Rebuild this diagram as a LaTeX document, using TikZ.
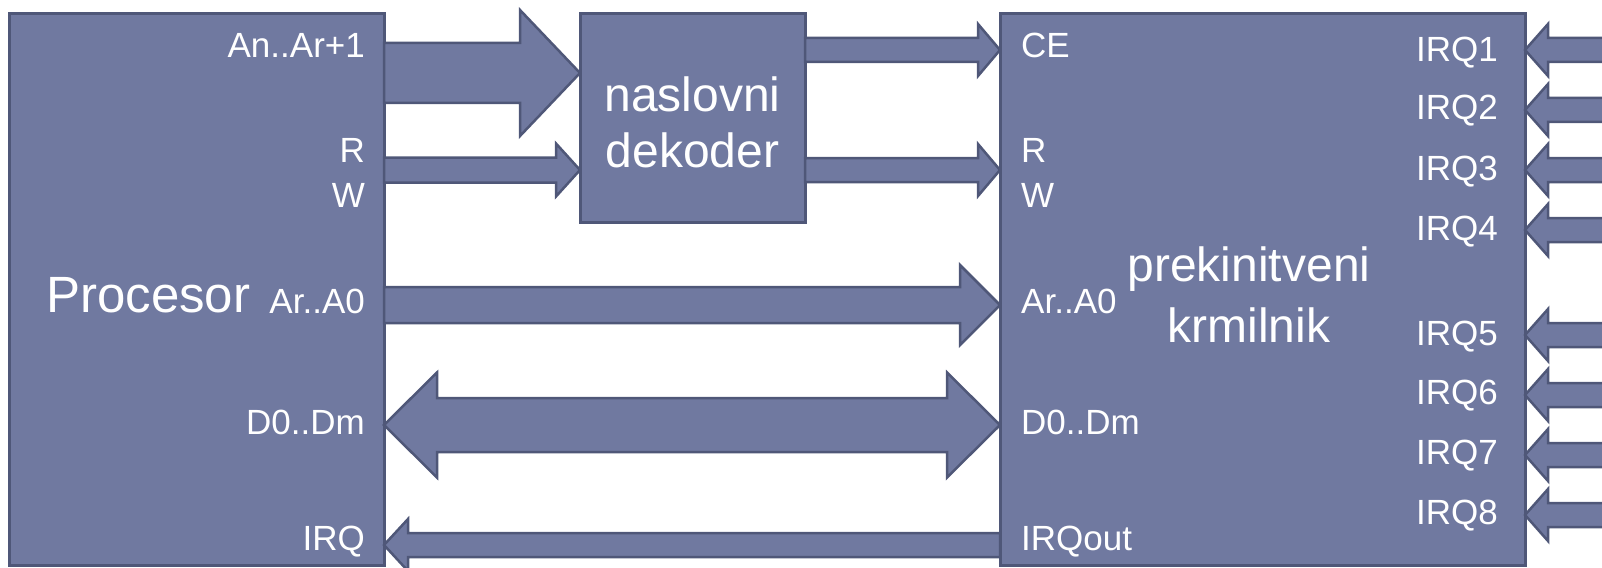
\documentclass[tikz,border=0pt]{standalone}
\usepackage{fontspec}
\setmainfont{Liberation Sans}
\usetikzlibrary{calc}

\definecolor{blockfill}{RGB}{112,121,160}
\definecolor{blockline}{RGB}{79,87,120}

\tikzset{
  block/.style={draw=blockline, fill=blockfill, line width=3pt, rectangle,
                inner sep=0pt, outer sep=0pt},
  busarrow/.style={draw=blockline, fill=blockfill, line width=2.5pt, line join=miter},
  pinlabel/.style={text=white, font=\fontsize{35}{40}\selectfont, inner sep=0pt},
  bigtext/.style={text=white, font=\fontsize{48}{56}\selectfont, inner sep=0pt},
}

% block arrow from the tail (#1) to the tip (#2), horizontal;
% #3 half shaft width, #4 half head width, #5 signed head length
\newcommand\busline[5]{%
  \path[busarrow] let \p1=(#1), \p2=(#2) in
    (\x1,{\y2+#3}) -- ({\x2-(#5)},{\y2+#3}) -- ({\x2-(#5)},{\y2+#4}) -- (\x2,\y2)
    -- ({\x2-(#5)},{\y2-#4}) -- ({\x2-(#5)},{\y2-#3}) -- (\x1,{\y2-#3}) -- cycle;}

% double-headed block arrow between the left tip (#1) and the right tip (#2)
\newcommand\busboth[5]{%
  \path[busarrow] let \p1=(#1), \p2=(#2) in
    (\x1,\y1) -- ({\x1+#5},{\y1+#4}) -- ({\x1+#5},{\y1+#3})
    -- ({\x2-#5},{\y1+#3}) -- ({\x2-#5},{\y1+#4}) -- (\x2,\y1)
    -- ({\x2-#5},{\y1-#4}) -- ({\x2-#5},{\y1-#3})
    -- ({\x1+#5},{\y1-#3}) -- ({\x1+#5},{\y1-#4}) -- cycle;}

\begin{document}
\begin{tikzpicture}[x=1pt, y=-1pt]
\useasboundingbox (0,0) rectangle (1602,567);
\clip (0,0) rectangle (1602,567);

% the three blocks
\node[block, minimum width=374.5pt, minimum height=551pt, anchor=north west] (cpu) at (9.5,14) {};
\node[block, minimum width=225pt, minimum height=208pt, anchor=north west] (dec) at (580,14) {};
\node[block, minimum width=525pt, minimum height=551pt, anchor=north west] (ctl) at (1000,14) {};

% levels of the buses
\coordinate (yAn) at (0,73);
\coordinate (yRW) at (0,170);
\coordinate (yCE) at (0,50);
\coordinate (yAr) at (0,305);
\coordinate (yD)  at (0,425);
\coordinate (yI)  at (0,545);

% address, control and data buses
\busline{cpu.east |- yAn}{dec.west |- yAn}{30pt}{63pt}{60pt}
\busline{cpu.east |- yRW}{dec.west |- yRW}{12.5pt}{26.5pt}{24pt}
\busline{dec.east |- yCE}{ctl.west |- yCE}{12pt}{26pt}{22pt}
\busline{dec.east |- yRW}{ctl.west |- yRW}{12pt}{26pt}{22pt}
\busline{cpu.east |- yAr}{ctl.west |- yAr}{18pt}{40pt}{40pt}
\busboth{cpu.east |- yD}{ctl.west |- yD}{27pt}{52.5pt}{53pt}
\busline{ctl.west |- yI}{cpu.east |- yI}{12pt}{26pt}{-24pt}

% interrupt request inputs
\foreach \k/\y in {1/50, 2/110, 3/170, 4/230, 5/335, 6/395, 7/455, 8/515} {
  \coordinate (src\k) at (1615,\y);
  \busline{src\k}{ctl.east |- src\k}{12pt}{26pt}{-23pt}
}

% processor labels
\node[bigtext, font=\fontsize{51}{60}\selectfont, anchor=base west] (cpuname) at (46,312) {Procesor};
\node[pinlabel, anchor=base east] (cpuAn) at (365,58)  {An..Ar+1};
\node[pinlabel, anchor=base east] (cpuR)  at (365,162) {R};
\node[pinlabel, anchor=base east] (cpuW)  at (365,207) {W};
\node[pinlabel, anchor=base east] (cpuAr) at (365,313) {Ar..A0};
\node[pinlabel, anchor=base east] (cpuD)  at (365,434) {D0..Dm};
\node[pinlabel, anchor=base east] (cpuI)  at (365,550) {IRQ};

% decoder
\node[bigtext, anchor=base] (decname1) at (692.5,112) {naslovni};
\node[bigtext, anchor=base] (decname2) at (692.5,167) {dekoder};

% interrupt controller
\node[bigtext, anchor=base] (ctlname1) at (1249,281) {prekinitveni};
\node[bigtext, anchor=base] (ctlname2) at (1249,342) {krmilnik};
\node[pinlabel, anchor=base west] (ctlCE) at (1021,58)  {CE};
\node[pinlabel, anchor=base west] (ctlR)  at (1021,162) {R};
\node[pinlabel, anchor=base west] (ctlW)  at (1021,207) {W};
\node[pinlabel, anchor=base west] (ctlAr) at (1021,313) {Ar..A0};
\node[pinlabel, anchor=base west] (ctlD)  at (1021,434) {D0..Dm};
\node[pinlabel, anchor=base west] (ctlI)  at (1021,550) {IRQout};
\foreach \k/\y in {1/62, 2/120, 3/180, 4/240, 5/345, 6/404, 7/464, 8/524} {
  \node[pinlabel, anchor=base east] (irq\k) at (1498,\y) {IRQ\k};
}
\end{tikzpicture}
\end{document}
